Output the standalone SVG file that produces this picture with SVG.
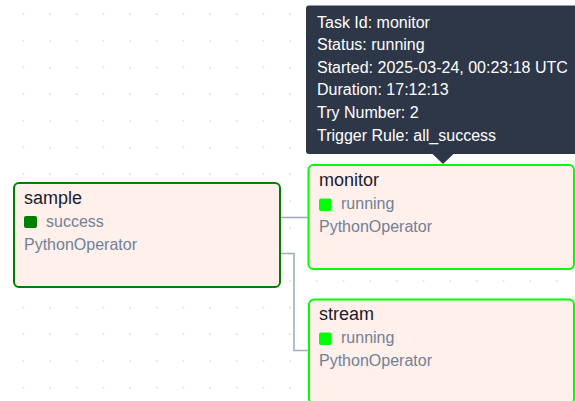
<svg xmlns="http://www.w3.org/2000/svg" width="575" height="401" viewBox="0 0 575 401">
  <defs>
    <pattern id="dots" x="22.3" y="13" width="26.67" height="26.67" patternUnits="userSpaceOnUse">
      <rect x="0.5" y="0.5" width="1.3" height="1.3" fill="#c8c8c8"/>
    </pattern>
    <style>
      text { font-family: "Liberation Sans", Arial, sans-serif; }
      .node-box { fill: #fff0ec; stroke-width: 2; }
      .title { font-size: 18px; fill: #1a202c; }
      .sub { font-size: 16px; fill: #718096; }
      .edge { fill: none; stroke: #a0aec0; stroke-width: 1.6; }
      .tip { font-size: 16px; fill: #ffffff; }
    </style>
  </defs>
  <rect width="575" height="401" fill="#ffffff"/>
  <rect width="575" height="401" fill="url(#dots)"/>

  <g id="connectors">
    <path class="edge" d="M280,217.5 H308.5"/>
    <path class="edge" d="M280,253.5 H294 V350.5 H309"/>
  </g>

  <g id="node-sample">
    <rect class="node-box" x="14" y="183" width="266" height="104" rx="5" stroke="#008000"/>
    <text class="title" x="24" y="203.5">sample</text>
    <rect x="24" y="216" width="13" height="12" rx="2" fill="#008000"/>
    <text class="sub" x="46" y="227">success</text>
    <text class="sub" x="24" y="250">PythonOperator</text>
  </g>

  <g id="node-monitor">
    <rect class="node-box" x="308.5" y="165" width="265.5" height="104" rx="5" stroke="#00ff00"/>
    <text class="title" x="319" y="186">monitor</text>
    <rect x="319" y="198.5" width="12.5" height="12.5" rx="2" fill="#00ff00"/>
    <text class="sub" x="341" y="208.5">running</text>
    <text class="sub" x="319" y="232">PythonOperator</text>
  </g>

  <g id="node-stream">
    <rect class="node-box" x="309" y="299.5" width="265" height="104" rx="5" stroke="#00ff00"/>
    <text class="title" x="319" y="320">stream</text>
    <rect x="319" y="332.5" width="12.5" height="12.5" rx="2" fill="#00ff00"/>
    <text class="sub" x="341" y="342.5">running</text>
    <text class="sub" x="319" y="366">PythonOperator</text>
  </g>

  <g id="tooltip">
    <rect x="306" y="5.5" width="275" height="148.5" rx="3" fill="#2d3748"/>
    <path d="M432,153.5 L443,164 L454,153.5 Z" fill="#2d3748"/>
    <text class="tip" x="317" y="27.5">Task Id: monitor</text>
    <text class="tip" x="317" y="50">Status: running</text>
    <text class="tip" x="317" y="72.7">Started: 2025-03-24, 00:23:18 UTC</text>
    <text class="tip" x="317" y="95.3">Duration: 17:12:13</text>
    <text class="tip" x="317" y="118">Try Number: 2</text>
    <text class="tip" x="317" y="140.5">Trigger Rule: all_success</text>
  </g>
</svg>
